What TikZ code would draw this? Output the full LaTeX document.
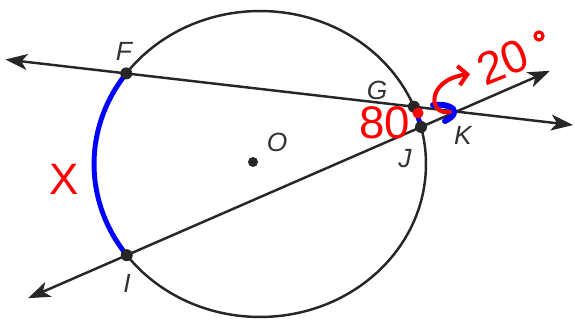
\documentclass[tikz,border=0pt]{standalone}
\usepackage{fontspec}
\setmainfont{Liberation Sans}
\usetikzlibrary{calc,arrows.meta}
\tikzset{
  line/.style={black!85, line width=1.4pt},
  tip/.style={{Stealth[length=0.44cm,width=0.32cm,inset=0.12cm]}-{Stealth[length=0.44cm,width=0.32cm,inset=0.12cm]}},
  lbl/.style={font=\fontsize{15}{15}\selectfont\itshape, text=black!80},
  bluearc/.style={blue, line width=2.8pt, line cap=round},
  note/.style={red, font=\fontsize{26}{26}\selectfont},
}
\begin{document}
\begin{tikzpicture}[x=0.02cm, y=-0.02cm]
			\useasboundingbox (0,0) rectangle (575,320);
			\coordinate (C) at (260,164);%中心
			\draw[line] (C) ellipse [x radius=3.32cm, y radius=3.06cm];
			\coordinate (F) at ($(C)+(143.7:3.32cm and 3.06cm)$);
			\coordinate (I) at ($(C)+(216.6:3.32cm and 3.06cm)$);
			\coordinate (G) at ($(C)+(22:3.32cm and 3.06cm)$);
			\coordinate (J) at ($(C)+(14:3.32cm and 3.06cm)$);
			\coordinate (K) at (intersection of F--G and I--J);
			\coordinate (O) at (253,162);
			% 直線の端
			\coordinate (L1) at ($(F)!-0.42!(G)$);
			\coordinate (L2) at ($(F)!1.553!(G)$);
			\coordinate (M1) at ($(I)!-0.335!(J)$);
			\coordinate (M2) at ($(I)!1.438!(J)$);
			\draw[line, tip] (L1)--(L2);
			\draw[line, tip] (M1)--(M2);
			% 青い弧
			\draw[bluearc] (F) arc [start angle=143.7, end angle=216.6, x radius=3.32cm, y radius=3.06cm];
			\draw[bluearc] (G) arc [start angle=22, end angle=14, x radius=3.36cm, y radius=3.1cm];
			\draw[bluearc, line width=3.4pt] (433,105) .. controls (452,103) and (463,112) .. (445,121);
			\fill[black!85] (F) circle [radius=0.12cm];
			\fill[black!85] (G) circle [radius=0.12cm];
			\fill[black!85] (J) circle [radius=0.12cm];
			\fill[black!85] (I) circle [radius=0.12cm];
			\fill[black!85] (O) circle [radius=0.1cm];
			\node[lbl] (lF) at (124,51) {F};
			\node[lbl] (lG) at (377,90) {G};
			\node[lbl] (lO) at (277,142) {O};
			\node[lbl, inner sep=1pt] (lJ) at (405,159) {J};
			\node[lbl] (lK) at (463,135) {K};
			\node[lbl] (lI) at (127,283) {I};
			% 赤い書き込み
			\node[note, font=\fontsize{25}{25}\selectfont] (tX) at (64,179) {X};
			\node[note, inner sep=0pt] (t80) at (385,123) {80};
			\fill[red] (418,113) circle [radius=0.11cm];
			\draw[red, line width=2.3pt, line cap=round, -{Straight Barb[length=5pt,width=11pt]}] (450,112) .. controls (428,116) and (426,80) .. (470,74);
			\node[note, rotate=22, inner sep=1pt] (t20) at (503,62) {20};
			\draw[red, line width=1.8pt] (539,36) circle [radius=0.08cm];
		\end{tikzpicture}
\end{document}
